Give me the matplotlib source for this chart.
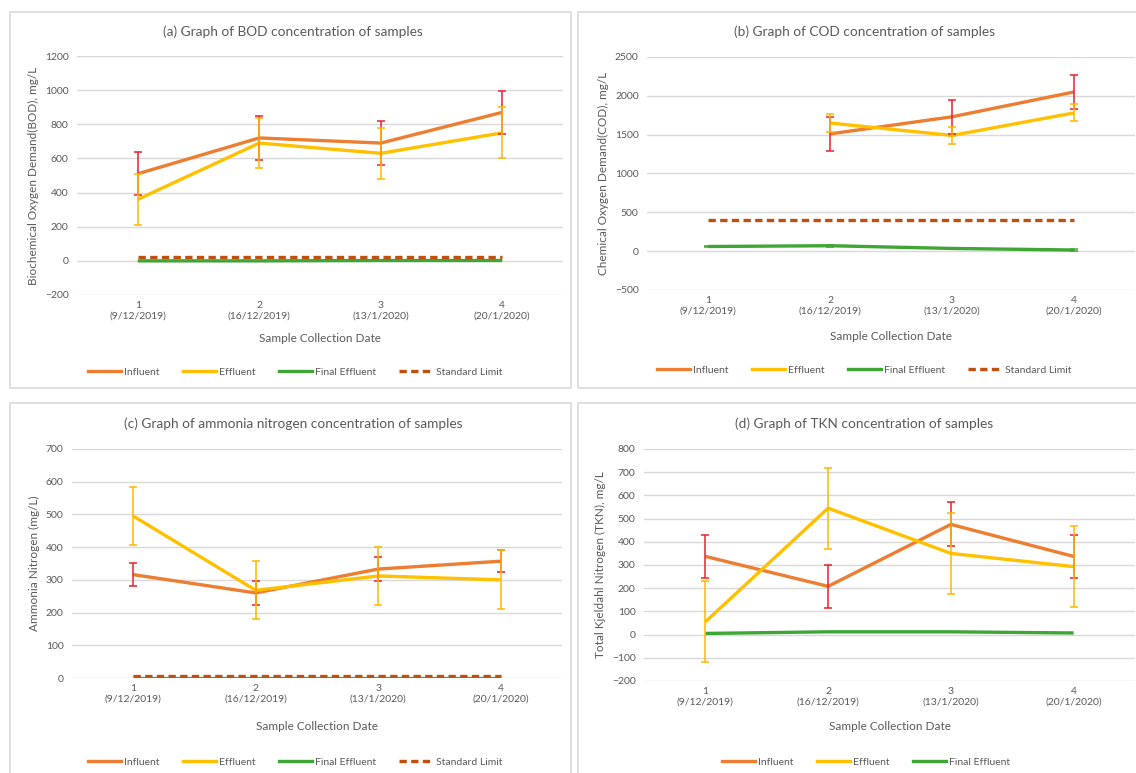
import numpy as np
import matplotlib
matplotlib.use('Agg')
import matplotlib.pyplot as plt
from matplotlib.patches import Rectangle
from matplotlib.lines import Line2D

plt.rcParams['font.family'] = ['Lato', 'DejaVu Sans']

# x axis categories
samples = ['1\n(9/12/2019)', '2\n(16/12/2019)', '3\n(13/1/2020)', '4\n(20/1/2020)']

# (a) BOD
bod_inf = [510, 720, 690, 870]
bod_inf_err = [125, 127, 130, 127]
bod_eff = [360, 690, 630, 750]
bod_eff_err = [150, 148, 150, 150]
bod_final = [0, 0, 2, 2]
bod_limit = [20, 20, 20, 20]

# (b) COD  (no influent/effluent reading on first date)
cod_inf = [np.nan, 1510, 1730, 2050]
cod_inf_err = [0, 220, 220, 220]
cod_eff = [np.nan, 1650, 1490, 1780]
cod_eff_err = [0, 110, 110, 110]
cod_final = [60, 70, 35, 15]
cod_final_err = [12, 12, 12, 10]
cod_limit = [400, 400, 400, 400]

# (c) ammonia nitrogen
nh3_inf = [316, 260, 333, 357]
nh3_inf_err = [35, 36, 36, 34]
nh3_eff = [495, 268, 312, 300]
nh3_eff_err = [89, 89, 89, 90]
nh3_final = [1, 1, 1, 1]
nh3_limit = [5, 5, 5, 5]

# (d) TKN
tkn_inf = [337, 208, 475, 337]
tkn_inf_err = [94, 94, 95, 94]
tkn_eff = [55, 545, 350, 293]
tkn_eff_err = [174, 174, 174, 175]
tkn_final = [5, 12, 12, 7]

C_INF = '#ED7D31'
C_EFF = '#FFC000'
C_FIN = '#3FA535'
C_LIM = '#C0500F'
C_INF_ERR = '#E8202A'
C_EFF_ERR = '#FFB800'
GRID = '#D9D9D9'
TXT = '#595959'

W, H = 1136, 773
fig = plt.figure(figsize=(W / 100, H / 100), dpi=100)


def px_rect(l, r, top, bot):
    return [l / W, 1 - bot / H, (r - l) / W, (bot - top) / H]


def panel(box, rect, title, title_xy, ylabel, ylim, ystep,
          inf, inf_err, eff, eff_err, fin, fin_err=None, limit=None,
          xlab_y=None, leg_xy=None):
    # grey frame around each chart
    l, t, r, b = box
    fig.patches.append(Rectangle((l / W, 1 - b / H), (r - l) / W, (b - t) / H,
                                 transform=fig.transFigure, fill=False,
                                 edgecolor=GRID, linewidth=1.2))
    ax = fig.add_axes(rect)
    x = np.arange(1, 5)
    ax.plot(x, inf, color=C_INF, lw=2.4, solid_capstyle='butt', zorder=3)
    ax.plot(x, eff, color=C_EFF, lw=2.4, solid_capstyle='butt', zorder=3)
    ax.plot(x, fin, color=C_FIN, lw=2.4, solid_capstyle='butt', zorder=3)
    if limit is not None:
        ax.plot(x, limit, color=C_LIM, lw=2.4, ls=(0, (2.2, 1.3)), zorder=3)
    ax.errorbar(x, inf, yerr=inf_err, fmt='none', ecolor=C_INF_ERR,
                elinewidth=1.1, capsize=3, capthick=1.1, zorder=4)
    ax.errorbar(x, eff, yerr=eff_err, fmt='none', ecolor=C_EFF_ERR,
                elinewidth=1.1, capsize=3, capthick=1.1, zorder=4)
    if fin_err is not None:
        ax.errorbar(x, fin, yerr=fin_err, fmt='none', ecolor=C_FIN,
                    elinewidth=1.1, capsize=3, capthick=1.1, zorder=4)

    ax.set_xlim(0.5, 4.5)
    ax.set_ylim(ylim)
    ax.set_yticks(np.arange(ylim[0], ylim[1] + 1, ystep))
    ax.set_xticks(x)
    ax.set_xticklabels(samples, fontsize=7.5, color=TXT, linespacing=1.3)
    ax.tick_params(axis='y', labelsize=7.5, labelcolor=TXT, length=0, pad=6)
    ax.tick_params(axis='x', length=0, pad=4)
    ax.grid(axis='y', color=GRID, lw=1)
    ax.set_axisbelow(True)
    for s in ax.spines.values():
        s.set_visible(False)
    ax.set_ylabel(ylabel, fontsize=8.5, color=TXT, labelpad=4)

    fig.text(title_xy[0] / W, 1 - title_xy[1] / H, title, fontsize=9.8,
             color=TXT, ha='center', va='center')
    cx = (rect[0] + rect[2] / 2)
    fig.text(cx, 1 - xlab_y / H, 'Sample Collection Date', fontsize=8.5,
             color=TXT, ha='center', va='center')

    handles = [Line2D([], [], color=C_INF, lw=2.4),
               Line2D([], [], color=C_EFF, lw=2.4),
               Line2D([], [], color=C_FIN, lw=2.4)]
    labels = ['Influent', 'Effluent', 'Final Effluent']
    if limit is not None:
        handles.append(Line2D([], [], color=C_LIM, lw=2.4, ls=(0, (2.2, 1.3))))
        labels.append('Standard Limit')
    fig.legend(handles, labels, loc='center',
               bbox_to_anchor=(leg_xy[0] / W, 1 - leg_xy[1] / H),
               ncol=len(labels), frameon=False, fontsize=7.5,
               handlelength=3.2, handletextpad=0.3, columnspacing=2.2,
               labelcolor=TXT)
    return ax


panel((10, 12, 571, 388), px_rect(77, 563, 56, 295),
      '(a) Graph of BOD concentration of samples', (293, 32),
      'Biochemical Oxygen Demand(BOD), mg/L', (-200, 1200), 200,
      bod_inf, bod_inf_err, bod_eff, bod_eff_err, bod_final,
      limit=bod_limit, xlab_y=338, leg_xy=(295, 372))

panel((578, 12, 1140, 388), px_rect(647, 1135, 57, 290),
      '(b) Graph of COD concentration of samples', (864, 32),
      'Chemical Oxygen Demand(COD), mg/L', (-500, 2500), 500,
      cod_inf, cod_inf_err, cod_eff, cod_eff_err, cod_final,
      fin_err=cod_final_err, limit=cod_limit, xlab_y=336, leg_xy=(864, 370))

panel((10, 403, 571, 780), px_rect(72, 562, 449, 678),
      '(c) Graph of ammonia nitrogen concentration of samples', (293, 424),
      'Ammonia Nitrogen (mg/L)', (0, 700), 100,
      nh3_inf, nh3_inf_err, nh3_eff, nh3_eff_err, nh3_final,
      limit=nh3_limit, xlab_y=727, leg_xy=(295, 762))

panel((578, 403, 1140, 780), px_rect(644, 1135, 449, 681),
      '(d) Graph of TKN concentration of samples', (864, 424),
      'Total Kjeldahl Nitrogen (TKN), mg/L', (-200, 800), 100,
      tkn_inf, tkn_inf_err, tkn_eff, tkn_eff_err, tkn_final,
      xlab_y=727, leg_xy=(866, 762))

fig.savefig('out.png', dpi=100)
